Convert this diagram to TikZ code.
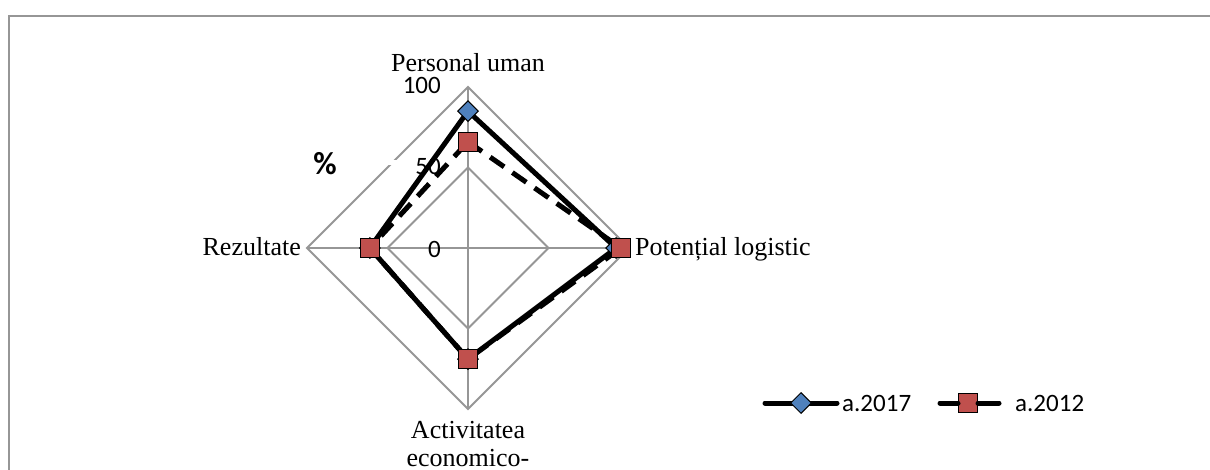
\documentclass[tikz,border=0pt]{standalone}
\usepackage{fontspec}
\setmainfont{Liberation Serif}
\newfontfamily\calibri{Carlito}
\usetikzlibrary{shapes.geometric}

\definecolor{gridgray}{RGB}{150,150,150}
\definecolor{serblue}{RGB}{79,129,189}
\definecolor{serred}{RGB}{192,80,77}

\tikzset{
    gridline/.style={draw=gridgray, line width=2pt},
    serline/.style={draw=black, line width=5pt, line join=round, line cap=round},
    dashline/.style={serline, line cap=butt, dash pattern=on 17pt off 10pt},
    diamark/.style={diamond, draw=black, fill=serblue, line width=1pt, minimum size=21pt, inner sep=0pt},
    sqmark/.style={rectangle, draw=black, fill=serred, line width=1pt, minimum size=19pt, inner sep=0pt},
    axlabel/.style={font=\fontsize{26}{28}\selectfont, inner sep=0pt},
    ticklabel/.style={font=\calibri\fontsize{25}{28}\selectfont, inner sep=0pt},
}

\begin{document}
\begin{tikzpicture}[x=1pt, y=-1pt]

    \path[use as bounding box] (0,0) rectangle (1210,470);
    \clip (0,0) rectangle (1210,470);

    % Chart frame
    \draw[gridgray, line width=2pt] (9,16) rectangle (1240,500);

    %% Radar grid

    \begin{scope}[shift={(468,248)}, x=1.61pt, y=1.61pt]
        \coordinate (O) at (0,0);

        % Rings and spokes
        \draw[gridline] (0,100) -- (100,0) -- (0,-100) -- (-100,0) -- cycle;
        \draw[gridline] (0,50) -- (50,0) -- (0,-50) -- (-50,0) -- cycle;
        \draw[gridline] (O) -- (0,100);
        \draw[gridline] (O) -- (100,0);
        \draw[gridline] (O) -- (0,-100);
        \draw[gridline] (O) -- (-100,0);
    \end{scope}

    % Gap in the outer ring
    \fill[white] (386,160) rectangle (398,165);

    % Tick labels
    \node[ticklabel, anchor=base east] (t100) at (441,94) {100};
    \node[ticklabel, anchor=base east] (t50) at (441,175) {50};
    \node[ticklabel, anchor=base east] (t0) at (441,258) {0};

    % Axis title
    \node[font=\calibri\bfseries\fontsize{32}{34}\selectfont] (pct) at (325,164) {\%};

    %% Series

    \begin{scope}[shift={(468,248)}, x=1.61pt, y=1.61pt]
        % a.2017
        \coordinate (T17) at (0,85);
        \coordinate (R17) at (92,0);
        \coordinate (B17) at (0,-69);
        \coordinate (L17) at (-61,0);
        \draw[serline] (T17) -- (R17) -- (B17) -- (L17) -- cycle;
        \foreach \p in {T17,R17,B17,L17}
            \node[diamark] at (\p) {};

        % a.2012
        \coordinate (T12) at (0,66);
        \coordinate (R12) at (95,0);
        \coordinate (B12) at (0,-69);
        \coordinate (L12) at (-61,0);
        \draw[dashline] (T12) -- (R12) -- (B12) -- (L12) -- cycle;
        \foreach \p in {T12,R12,B12,L12}
            \node[sqmark] at (\p) {};
    \end{scope}

    % Category labels
    \node[axlabel, anchor=base] (pers) at (468,72) {Personal uman};
    \node[axlabel, anchor=base east] (rez) at (301,256) {Rezultate};
    \node[axlabel, anchor=base west] (pot) at (635,256) {Potențial logistic};
    \node[axlabel, anchor=base] (act) at (468,438) {Activitatea};
    \node[axlabel, anchor=base] (eco) at (468,466) {economico-};

    %% Legend

    \coordinate (l17a) at (765,403);
    \coordinate (l17b) at (837,403);
    \draw[serline] (l17a) -- (l17b);
    \node[diamark] (m17) at (801,403) {};
    \node[ticklabel, anchor=base west] (lab17) at (842,411.5) {a.2017};

    \coordinate (l12a) at (940,403);
    \coordinate (l12b) at (999,403);
    \node[sqmark] (m12) at (968,403) {};
    \draw[serline] (l12a) -- (m12.west);
    \draw[serline] (m12.east) -- (l12b);
    \node[ticklabel, anchor=base west] (lab12) at (1015,411.5) {a.2012};

\end{tikzpicture}
\end{document}
